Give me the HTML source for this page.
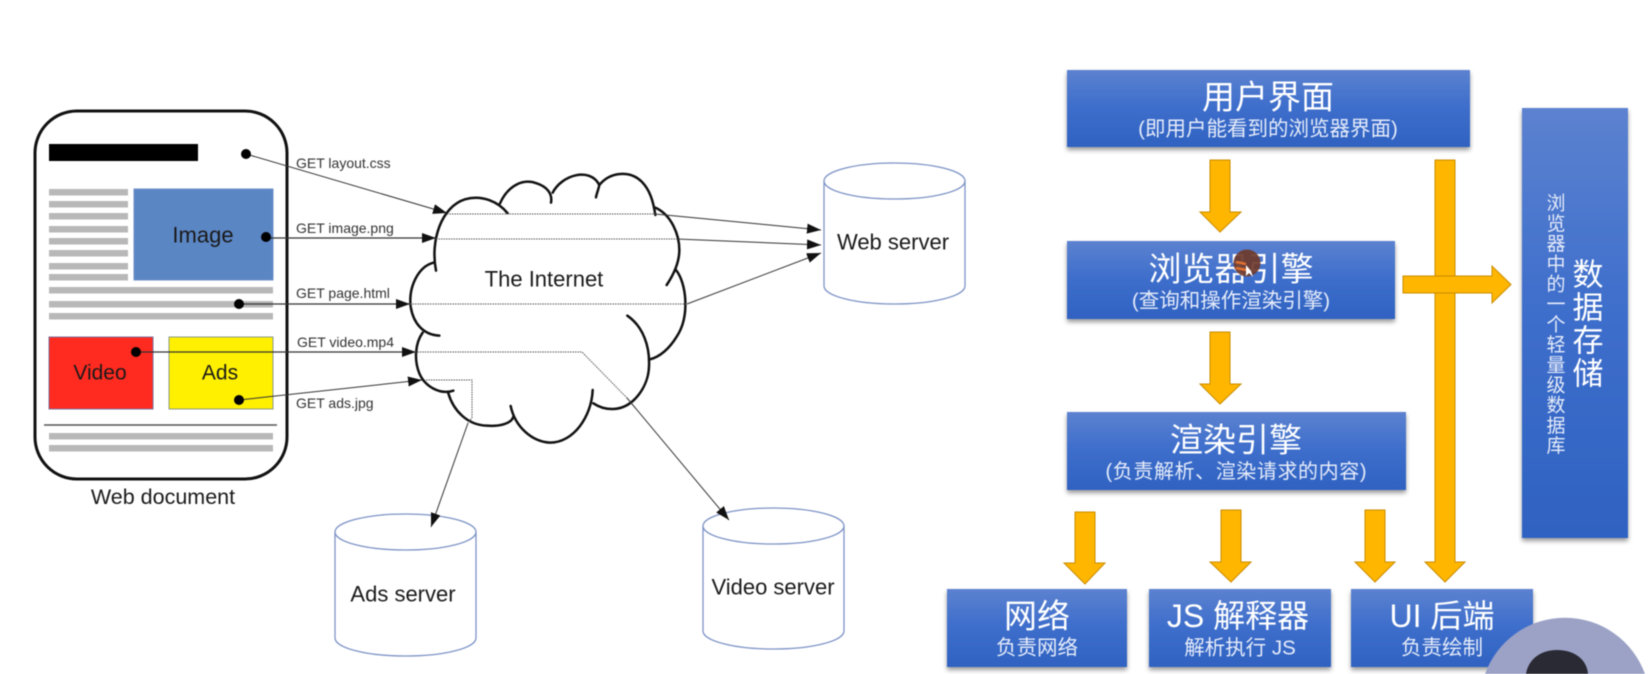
<!DOCTYPE html>
<html lang="zh">
<head>
<meta charset="utf-8">
<title>Web document and browser architecture</title>
<style>
html,body{margin:0;padding:0;background:#fff;width:1652px;height:674px;overflow:hidden}
svg{display:block;position:absolute;left:0;top:0;filter:blur(.4px)}
.l{font-family:"Liberation Sans",sans-serif;fill:#1a1a1a}
.c{font-family:"Liberation Sans","Noto Sans CJK SC",sans-serif;fill:#fff;text-anchor:middle;dominant-baseline:central}
.t{font-size:33px}
.s{font-size:20.5px;fill:#e6ecfa}
.m{font-size:22px;text-anchor:middle;dominant-baseline:central}
.g{font-size:14px;fill:#333}
.cy{fill:#fff;stroke:#7d93c6;stroke-width:1.3}
.gl{fill:#b8b8b8}
.ln{stroke:#333;stroke-width:1;fill:none}
.dt{stroke:#555;stroke-width:1;stroke-dasharray:1.5 1;fill:none}
.ar{fill:#ffb600;stroke:#c98c00;stroke-width:1}
.bx{fill:url(#bg);filter:url(#sh)}
</style>
</head>
<body>
<svg width="1652" height="674" viewBox="0 0 1652 674" xmlns="http://www.w3.org/2000/svg">
<defs>
<linearGradient id="bg" x1="0" y1="0" x2="0" y2="1">
<stop offset="0" stop-color="#5c82d0"/><stop offset=".45" stop-color="#3f6fcc"/><stop offset="1" stop-color="#2f62c2"/>
</linearGradient>
<filter id="sh" x="-10%" y="-10%" width="120%" height="125%">
<feDropShadow dx="0" dy="3" stdDeviation="2.5" flood-color="#000" flood-opacity=".4"/>
</filter>
<marker id="a" markerWidth="15" markerHeight="11" refX="14" refY="5" orient="auto" markerUnits="userSpaceOnUse">
<path d="M0 0L14 5L0 10Z" fill="#111"/>
</marker>
</defs>

<!-- Web document -->
<rect x="35" y="111" width="252" height="368" rx="42" ry="42" fill="#fff" stroke="#111" stroke-width="3"/>
<rect x="49" y="144" width="149" height="17" fill="#000"/>
<g class="gl">
<rect x="49" y="189" width="79" height="6.5"/><rect x="49" y="201" width="79" height="6.5"/>
<rect x="49" y="213" width="79" height="6.5"/><rect x="49" y="226" width="79" height="6.5"/>
<rect x="49" y="238" width="79" height="6.5"/><rect x="49" y="250" width="79" height="6.5"/>
<rect x="49" y="263" width="79" height="6.5"/><rect x="49" y="274" width="79" height="6.5"/>
<rect x="49" y="287" width="224" height="6.5"/><rect x="49" y="301" width="224" height="6.5"/>
<rect x="49" y="313" width="224" height="6.5"/>
<rect x="49" y="433" width="224" height="6.5"/><rect x="49" y="445" width="224" height="6.5"/>
</g>
<rect x="134" y="189" width="139" height="91" fill="#5b86c4" stroke="#6f8fc8"/>
<rect x="49" y="337" width="104" height="72" fill="#ff2a20" stroke="#7d6f9a"/>
<rect x="169" y="337" width="104" height="72" fill="#fff000" stroke="#8a9a88"/>
<line x1="44" y1="425" x2="277" y2="425" stroke="#555" stroke-width="1.4"/>
<text class="l m" x="203" y="235" fill="#111">Image</text>
<text class="l m" x="100" y="373" style="font-size:21px">Video</text>
<text class="l m" x="220" y="373" style="font-size:21px">Ads</text>
<text class="l m" x="163" y="497" style="font-size:21.500px">Web document</text>

<!-- Cloud -->
<g transform="translate(400 160) scale(.33333)" fill="none" stroke="#111" stroke-width="7.500" stroke-linecap="round">
<path d="M108 332C90 240 125 140 195 118C245 103 295 125 323 160"/>
<path d="M300 130C325 75 370 55 410 70C440 80 458 100 453 128"/>
<path d="M458 98C485 45 570 20 598 75C595 90 590 100 588 112"/>
<path d="M598 75C630 35 690 30 725 65C750 90 760 125 766 165"/>
<path d="M766 143C815 165 838 225 838 270C838 310 820 345 800 375"/>
<path d="M828 330C860 370 870 470 830 530C805 570 780 590 750 598"/>
<path d="M682 467C730 500 750 560 747 620C745 680 700 745 640 747C615 748 595 740 580 730"/>
<path d="M578 690C575 770 520 848 450 848C395 845 345 800 332 738"/>
<path d="M340 770C335 790 300 800 260 797C200 795 160 750 145 700"/>
<path d="M160 692C120 705 75 680 58 640C42 600 45 550 68 518"/>
<path d="M118 527C70 525 40 490 32 440C25 380 55 320 100 308"/>
</g>
<text class="l m" x="544" y="279">The Internet</text>

<!-- Cylinders -->
<g class="cy">
<path d="M824 181V286A70.500 18 0 0 0 965 286V181"/><ellipse cx="894.500" cy="181" rx="70.500" ry="18"/>
<path d="M703 526V631A70.500 18 0 0 0 844 631V526"/><ellipse cx="773.500" cy="526" rx="70.500" ry="18"/>
<path d="M335 532V638A70.500 18 0 0 0 476 638V532"/><ellipse cx="405.500" cy="532" rx="70.500" ry="18"/>
</g>
<text class="l m" x="893" y="242">Web server</text>
<text class="l m" x="773" y="587">Video server</text>
<text class="l m" x="403" y="594">Ads server</text>

<!-- Request arrows -->
<line class="ln" x1="246" y1="154" x2="447" y2="213" marker-end="url(#a)"/>
<line class="ln" x1="266" y1="238" x2="436" y2="238" marker-end="url(#a)" style="stroke-width:1.3"/>
<line class="ln" x1="239" y1="304" x2="410" y2="304" marker-end="url(#a)" style="stroke-width:1.3"/>
<line class="ln" x1="136" y1="352" x2="416" y2="352" marker-end="url(#a)" style="stroke-width:1.3"/>
<line class="ln" x1="239" y1="400" x2="422" y2="380" marker-end="url(#a)"/>
<g fill="#000">
<circle cx="246" cy="154" r="5"/><circle cx="266" cy="237" r="5"/><circle cx="239" cy="304" r="5"/>
<circle cx="136" cy="352" r="5"/><circle cx="239" cy="400" r="5"/>
</g>
<g class="l g">
<text x="296" y="168">GET layout.css</text>
<text x="296" y="233">GET image.png</text>
<text x="296" y="298">GET page.html</text>
<text x="297" y="347">GET video.mp4</text>
<text x="296" y="408">GET ads.jpg</text>
</g>

<!-- Through-cloud lines -->
<path class="dt" d="M447 214H655"/>
<path class="dt" d="M436 239H677"/>
<path class="dt" d="M410 304H687"/>
<path class="dt" d="M415 352H582L627 398"/>
<path class="dt" d="M426 380H472V418L468 423"/>
<line class="ln" x1="655" y1="214" x2="821" y2="230" marker-end="url(#a)"/>
<line class="ln" x1="677" y1="239" x2="821" y2="245" marker-end="url(#a)"/>
<line class="ln" x1="687" y1="304" x2="821" y2="253" marker-end="url(#a)"/>
<line class="ln" x1="627" y1="398" x2="729" y2="520" marker-end="url(#a)"/>
<line class="ln" x1="468" y1="423" x2="431" y2="527" marker-end="url(#a)"/>

<!-- Blue boxes -->
<rect class="bx" x="1067" y="70" width="403" height="77"/>
<rect class="bx" x="1067" y="241" width="328" height="78"/>
<rect class="bx" x="1067" y="412" width="339" height="78"/>
<rect class="bx" x="947" y="589" width="180" height="78"/>
<rect class="bx" x="1149" y="589" width="182" height="78"/>
<rect class="bx" x="1351" y="589" width="182" height="78"/>
<rect class="bx" x="1522" y="108" width="106" height="430"/>

<g class="c">
<text class="c t" x="1268" y="97">用户界面</text>
<text class="c s" x="1268" y="129">(即用户能看到的浏览器界面)</text>
<text class="c t" x="1231" y="269">浏览器引擎</text>
<text class="c s" x="1231" y="301">(查询和操作渲染引擎)</text>
<text class="c t" x="1236" y="440">渲染引擎</text>
<text class="c s" x="1236" y="472" style="font-size:20px" textLength="261">(负责解析、渲染请求的内容)</text>
<text class="c t" x="1037" y="616">网络</text>
<text class="c s" x="1037" y="648">负责网络</text>
<text class="c t" x="1238" y="616" style="font-size:32px">JS 解释器</text>
<text class="c s" x="1240" y="648">解析执行 JS</text>
<text class="c t" x="1442" y="616" style="font-size:32px">UI 后端</text>
<text class="c s" x="1442" y="648">负责绘制</text>
</g>
<text x="1588" y="258" style="writing-mode:vertical-rl;font-family:'Noto Sans CJK SC',sans-serif;font-size:31px;letter-spacing:2px;fill:#fff">数据存储</text>
<text x="1556" y="193" style="writing-mode:vertical-rl;font-family:'Noto Sans CJK SC',sans-serif;font-size:19px;letter-spacing:1.200px;fill:#e6ecfa">浏览器中的一个轻量级数据库</text>

<!-- Orange arrows -->
<path class="ar" d="M1210 160H1230V212H1241L1220 232L1200 212H1210Z"/>
<path class="ar" d="M1210 332H1230V384H1241L1220 404L1200 384H1210Z"/>
<path class="ar" d="M1435 160H1455V562H1465L1445 582L1425 562H1435Z"/>
<path class="ar" d="M1403 276H1492V266L1511 284.500L1492 303V293H1403Z"/>
<path class="ar" d="M1075 512H1095V563H1105L1085 584L1064 563H1075Z"/>
<path class="ar" d="M1221 510H1241V562H1251L1231 582L1210 562H1221Z"/>
<path class="ar" d="M1365 510H1385V562H1395L1375 582L1355 562H1365Z"/>

<!-- Cursor highlight -->
<circle cx="1247" cy="263" r="13.500" fill="#6e3a2b" opacity=".92"/>
<path d="M1236 262L1246 264M1236 268L1246 270" stroke="#e07030" stroke-width="2.500"/>
<path d="M1246 265L1246 276L1249 273L1253 277L1251 271Z" fill="#fff"/>

<!-- Webcam -->
<path d="M1485 674A85 85 0 0 1 1645 674Z" fill="#9ba2c6"/>
<path d="M1526 674C1528 660 1540 650 1557 650C1575 650 1587 660 1588 674Z" fill="#2a2a35"/>
</svg>
</body>
</html>
